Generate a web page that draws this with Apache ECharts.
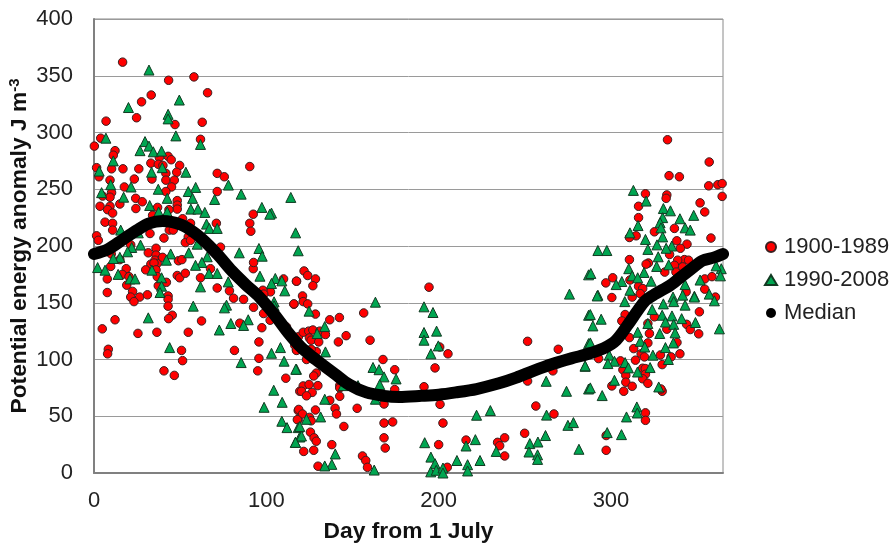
<!DOCTYPE html>
<html><head><meta charset="utf-8">
<style>html,body{margin:0;padding:0;background:#fff}#c{width:895px;height:551px}</style>
<script src="https://cdn.jsdelivr.net/npm/echarts@6/dist/echarts.min.js"></script>
</head><body><div id="c"></div>
<script>
const xTitle = "Day from 1 July";
const yTitleMain = "Potential energy anomaly J m";
const yTitleSup = "-3";
const seriesNames = ["1900-1989","1990-2008","Median"];
const red1900 = [
[16.6,362],[43.3,346],[58,349],[65.9,335],[33.2,333],[27.6,327],[7,310],[24.7,313],[47,307],[62.8,309],[3.9,295],[61.8,294],[0.2,288],[12.2,284],[11.2,280],
[37.9,278],[43,279],[44.8,276],[49.7,271],[33,273],[37.3,272],[40,271],[1.5,269],[16.8,268],[26,268],[10.2,268],[41.7,264],[48,265],[71.5,264],[75.6,261],[90.4,270],[2.9,261],[9.3,258],[33.6,259],[41.7,258],[46.6,258],[23.4,259],[17.6,252],[45,252],[41.7,248],[71.5,248],[5,244],[10.2,247],[9.3,243],[24.2,242],[28,239],[15,237],[3.5,235],[9.3,235],[24.3,233],[7.9,232],[10.8,229],[48.3,240],[48.3,236],[48.3,232.5],[36.9,234],[34,227],[43.5,232],[92.4,228],[90.4,220],[91,213],[51.4,224],[56,220],[71,220],[6.4,221],[10.8,220],[10.8,214],[1.5,209],[2.5,205],[32.5,211],[43.7,214],[46,214],[40.6,207],[54.7,208],
[53,203],[56,205],[73.4,199],[21.3,201],[31.5,194],[36,198],[36,192],[10,193],[15,188],[35.4,187.5],[36.7,184.6],[33,184],[34.8,185],[39.8,190],[49,187],[51,188],[9.7,182],[18.7,180],[30,179],[36,179],[36.7,173],[16.4,175],[20.3,173],[48.3,174],[49.7,172],[53,176],[7.7,171],[19,165.5],[61.8,172],[67.6,180],[42,168],[37.3,165],[7.7,159],[22.4,160],[21.3,155],[26.5,155],[23.2,151],[31,157],[43,156],[43,153],[43,147],[71.5,163],[78.6,160.5],[81,154],[86.8,153],[12.2,135],[45.4,139],[43.3,136],[62.4,134],[4.8,127],[25.5,123],[36.5,124],[54.7,124],[8.3,109],[7.9,105],[50.8,108],[51.4,99],[40.6,90],[46.6,86],[81.5,108],[95.7,115.5],[95.7,101],[95,90],[111.3,83.5],[97.4,128],[84.6,132],[92.6,146],[98.4,140.5],[102.2,134.6],[116,148.7],[117.5,169],[110,171],[102.4,159.6],[98,161],[98.5,157.6],[92.4,180],[92.6,185.5],[111.7,128.7],[118.6,120],[117.5,108.8],[119.4,72],[118.5,55],[118.5,47],
[121.9,178],[124,174],[128.5,171],[117.5,169],[127,165],[121,156],[121.4,151],[124,149],[116,149],[128.5,140],[136.8,135],[142.4,137],[156.5,141],[194.4,163.7],[121.4,124],[124.6,125],[127,126],[131,125],[134.3,122],[125,119],[126,117],[130.4,115.5],[146.3,121],[141.8,115.5],[160.2,117],[116.5,112.6],[129,107],[126,109],[117.5,108],[123.3,100],[167.7,100],[205.4,105],[200.6,111],[174.5,91],[197.9,92.6],[129,88],[127.5,85.5],[121.4,76.7],[124.8,78],[129.9,77],[120.4,72],[126.6,71],[123.3,68],[142.6,77],[142.6,75],[174.5,73.5],[191.5,76],[136.8,64],[142.6,67.6],[139.9,57],[140.7,52],[152.7,57],[168.3,60.8],[200.8,60.5],[118.8,56],[121,52],[128.5,55.5],[118,47],[125,49],[126,46],[145,41],[168.3,44],[173.3,45],[202.5,44],[125.6,36],[127.7,31],[129,28],[168.3,31],[169,22],[121.7,19],[127.5,20],[138,25],[130,6],[155.8,15],[157.7,11],[158.7,5],[200,25],[215.9,29],[205,5],[251.6,116],[269.4,109],[251.6,81],[266.3,90],[256.4,59],[266.9,52],[249.9,35],[234.2,27],[235.4,24],[238.3,31],[238.3,15],
[332.8,293.6],[357,274],[333.7,262],[339.7,261],[356.7,253],[362,254],[364.5,255],[364.5,243.7],[320,246],[332.4,245],[332,242],[316,235],[351.7,238],[354.4,230],[316,225],[336.8,215.5],[325.2,212.5],[314.6,209],[310.7,207.5],[358,207],[338.2,204.6],[344.1,201.6],[340.3,198],[334,192.5],[310.7,188],[321.7,185],[320.4,184],[331.2,177],[342.6,188],[345,187.5],[338.7,187.5],[336.8,183],[341.6,181.6],[337.7,177],[354.4,171],[358.6,173],[301,172],[297,167.5],[316,164.5],[311,170],[318.4,162.5],[300.5,154.6],[312.3,155],[317,158],[354.4,162],[360.6,155],[343.6,159.6],
[308.2,139.6],[306.3,134],[325.2,137.6],[321.4,131.7],[332.4,126.7],[343.9,131],[346,126.4],[350.9,122.6],[351.3,142],[322.3,122.9],[310.7,119.3],[321.4,114.6],[338.3,115],[313.2,109.6],[317.5,105],[340,105],[319.4,102.3],[314.2,99.4],[328.7,104],[334.9,102.3],[329.7,95.5],[305.5,98.8],[292.8,100.8],[318.4,92.3],[319.9,92],[306.9,91],[308.6,86],[320,87],[318.4,83],[308.6,80],[321.4,79],[312.3,76.4],[300.5,76.7],[307.4,72],[329.7,72],[329,74],[320,53],[320,46.4],[297.2,33],[297.2,20]
];
const green1990 = [
[31.9,355],[20,322],[49.5,328.6],[43,316],[43,312],[47.5,297],[6.9,295],[29.6,292],[61.8,289.5],[31.9,288],[26.7,284],[34.4,283],[39.2,283.6],[11.2,275],[3,266],[39.6,269],[33.4,265],[53.3,265],[9.7,254],[21.5,252],[37.3,250],[59,251.6],[54.7,248],[78,253.7],[85.4,245.7],[114.2,242.8],[4.4,247],[17.2,243],[42.5,242],[57.2,242],[70,241],[32.3,235.7],[56.2,232.5],[60.3,232.5],[97.4,234],[64.3,229.6],[37.5,230],[42.5,230],[103,229],[102,228],[65.3,219.3],[66.9,215.5],[71.5,215.5],[117,211.6],[15.5,214],[25.7,211.6],
[95.7,197.8],[84.3,194],[97.6,191],[59.9,201.6],[118.5,195.8],[27,200.8],[21.9,198.7],[19.5,194.9],[44.5,193],[55,194],[65.7,190.5],[15,190],[11.2,189],[42,187.5],[2.1,181],[6.4,178.7],[62.6,185.5],[58.9,183],[33.6,178.7],[14,175],[20.9,171],[23.8,171],[66.7,175.8],[71.5,175.8],[39.2,172],[96.3,173.4],[77.9,168.4],[61.8,164],[105.2,171.4],[109,169.3],[103,167],[39.2,164.6],[110.7,160.5],[38.3,159],[57.6,147],[76.9,147.9],[75.7,145.5],[104.5,150.8],[104.5,147.3],[31.5,136.7],[89.5,135],[79.4,131.7],[86.8,130],[72.7,126],[43.9,110.5],[108.2,110.5],[103,105.5],[85.4,97.3],[110.3,98.5],[117.5,91.4],[104.3,72.9],[109.2,62.3],[98.7,57.9],[109,45.6],[112,40],[118.5,40],[116.9,27],[119.4,31.7],
[133.9,129],[129.5,122.9],[124.8,142.6],[163.3,150.5],[191.5,146.4],[196.7,141.4],[275.9,157.6],[191.5,123.8],[198.8,125],[191.5,117],[199.8,112],[195.5,105],[134.3,106.7],[117.1,91.4],[161.9,93],[165.4,91],[168.3,84.7],[175.3,82.9],[165.8,77.9],[153.2,77],[144.6,77],[133.9,65],[163.3,65],[131.5,49.4],[123.3,47.3],[119.4,41],[120.4,32.6],[116.9,27],[140,16.8],[138,7.6],[133.9,6.2],[162.6,2.6],[191.9,26.7],[195.5,14],[197.9,8.2],[195.4,1],[198.6,2.4],[202.5,4.4],[202.5,0],[210.6,11],[216.8,7.3],[216.8,1.8],[224,11],[222,50.9],[230,55],[215.9,23.8],[221.3,29.4],[233.4,19],[252.9,25.9],[257.6,27.3],[262,33],[252.4,18.5],[257.4,16],[257.4,12],[262.4,80.8],[262.6,51],[275,42],[278.2,44.4],[274.2,72],[281.4,20.9],[285,94],[287,74],[287,114],[287,139],[287,174.6],
[313,249],[320.4,239.6],[330.4,233],[334.5,231],[348,227],[340,224],[330,225],[328.5,220.5],[315.7,218],[329,216],[343,216],[346,214],[311,211.6],[320,205.8],[330,208],[326.7,201],[335.3,200],[332,198],[321.4,197],[292.4,196],[297.6,196],[327.4,190.5],[326.5,182],[333.5,183.4],[310.3,180],[319.2,176.7],[312.3,173.7],[315.5,172],[288.3,175.8],[323.3,169],[306.3,168.7],[303,166],[311,161],[292.4,156.7],[351.7,170],[364,180],[361,182.5],[363.5,173.7],[343,166],[357,157.6],[348.4,155.8],[341.6,156.7],[336,155],
[292,156],[308,151],[336.4,151],[343,147.9],[348.4,155],[360,151.7],[330.4,149],[323.9,144],[288,139.6],[294.3,135.5],[289.5,129.6],[329.7,139],[335.4,138.4],[341,136],[331.6,133],[321.4,131.7],[336.4,131],[362.9,127],[349,132.6],[315.5,124],[328.3,122.9],[337.2,123.5],[288,114.6],[317,116],[336.2,114.6],[331.6,110.5],[319.6,111],[324.3,103.8],[333.3,100],[299,103.8],[302,98.5],[298.2,96.4],[285,94.4],[308.2,97.3],[310.1,92.6],[322.7,92.9],[315.4,89],[302,81.7],[288,75],[327.7,75.8],[294.9,68.2],[315,58.2],[315.3,52.9],[309,49.4],[297.8,35.6],[306.1,33.8]
];
const medianLine = [
[0,193],[8,197],[17,206],[25,214],[32,220],[40,222],[50,219],[58,212],[65,203],[72,192],[80,178],[88,166],[96,155],[105,139],[113,123],[120,111],[127,102],[133,95],[140,87],[148,78],[158,71],[168,68],[177,67],[190,68],[200,69],[210,71],[222,74],[235,79],[245,84],[255,90],[266,96],[277,101],[287,105],[296,110],[303,117],[310,131],[315,142],[320,152],[326,158],[334,165],[340,172],[346,179],[353,187],[360,190],[365,193]
];
const chart = echarts.init(document.getElementById('c'));
const font = 'Liberation Sans';
chart.setOption({
  animation:false,
  backgroundColor:'#fff',
  textStyle:{fontFamily:font},
  grid:{left:94,right:172,top:19,bottom:78,show:true,borderColor:'#8a8a8a',borderWidth:1,outerBoundsMode:'none'},
  xAxis:{type:'value',min:0,max:365,interval:100,splitLine:{show:false},
    axisLine:{show:true,lineStyle:{color:'#808080',width:2}},axisTick:{show:false},
    axisLabel:{color:'#222',fontSize:22,fontFamily:font,margin:17,showMaxLabel:false},
    name:xTitle,nameLocation:'middle',nameGap:47,nameMoveOverlap:false,
    nameTextStyle:{color:'#111',fontSize:22.8,fontWeight:'bold',fontFamily:font}},
  yAxis:{type:'value',min:0,max:400,interval:50,
    splitLine:{show:true,lineStyle:{color:'#9a9a9a',width:1}},
    axisLine:{show:true,lineStyle:{color:'#808080',width:2}},axisTick:{show:false},
    axisLabel:{color:'#222',fontSize:22,fontFamily:font,margin:21},
    name:`{a|${yTitleMain}}{s|${yTitleSup}}`,nameLocation:'middle',nameGap:61,nameMoveOverlap:false,
    nameTextStyle:{rich:{
      a:{color:'#111',fontSize:22.8,fontWeight:'bold',fontFamily:font,lineHeight:26},
      s:{color:'#111',fontSize:15,fontWeight:'bold',fontFamily:font,lineHeight:15,verticalAlign:'top'}}}},
  legend:{orient:'vertical',left:759,top:231,itemWidth:12,itemHeight:10,itemGap:11,
    textStyle:{fontSize:22,color:'#222',fontFamily:font,padding:[0,0,0,2]},
    data:[{name:seriesNames[0],icon:'circle'},{name:seriesNames[1],icon:'triangle'},{name:seriesNames[2],icon:'circle'}]},
  series:[
    {name:seriesNames[0],type:'scatter',data:red1900,symbol:'circle',symbolSize:8.5,
      itemStyle:{color:'#ff0000',borderColor:'#3a2020',borderWidth:1,opacity:1}},
    {name:seriesNames[1],type:'scatter',data:green1990,symbol:'triangle',symbolSize:10,
      itemStyle:{color:'#00a651',borderColor:'#123a22',borderWidth:1,opacity:1}},
    {name:seriesNames[2],type:'line',data:medianLine,smooth:0.3,showSymbol:false,symbol:'circle',
      lineStyle:{color:'#000',width:12,cap:'round',join:'round'},itemStyle:{color:'#000',borderColor:'#000'},z:5}
  ]
});
</script></body></html>
